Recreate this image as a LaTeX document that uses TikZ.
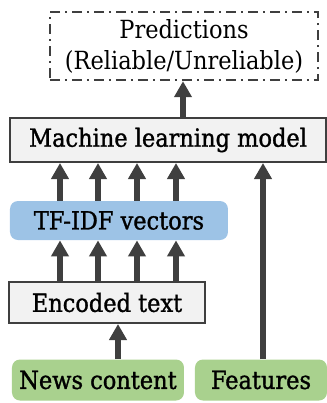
\documentclass[tikz,border=0pt]{standalone}
\usepackage{xcolor}
\usepackage{fontspec}
\setmainfont{DejaVu Serif Condensed}
\newfontfamily\labelfont{DejaVu Serif Condensed}[FakeBold=1.2]
\usetikzlibrary{arrows.meta}
\definecolor{boxgray}{HTML}{F2F2F2}
\definecolor{edgegray}{HTML}{3F3F3F}
\definecolor{tfblue}{HTML}{9DC3E6}
\definecolor{inputgreen}{HTML}{A9D18E}
\tikzset{
  plainbox/.style={draw=edgegray, line width=1pt, fill=boxgray, inner sep=0pt,
    font=\fontsize{12.5}{15}\labelfont},
  roundbox/.style={rounded corners=4pt, inner sep=0pt,
    font=\fontsize{12.5}{15}\labelfont},
  uparrow/.style={draw=edgegray, line width=2.6pt,
    -{Triangle[width=8.5pt,length=8pt]}}
}
\begin{document}
\begin{tikzpicture}[x=0.5pt, y=-0.5pt]
    \useasboundingbox (0,0) rectangle (327,403);

    % Boxes
    \node[draw=edgegray, line width=1.2pt, dash pattern={on 5pt off 2.5pt on 1pt off 2.5pt},
      minimum width=134pt, minimum height=34pt, inner sep=0pt, align=center,
      font=\fontsize{12.5}{15.5}\selectfont] (pred) at (184,46)
      {Predictions\\(Reliable/Unreliable)};
    \node[plainbox, minimum width=158pt, minimum height=22pt] (model) at (168,140)
      {Machine learning model};
    \node[roundbox, fill=tfblue, minimum width=109pt, minimum height=19.5pt] (tfidf) at (119,220.5)
      {TF-IDF vectors};
    \node[plainbox, minimum width=98pt, minimum height=20.5pt] (enc) at (107,302.5)
      {Encoded text};
    \node[roundbox, fill=inputgreen, minimum width=86pt, minimum height=20.5pt] (news) at (98,380)
      {News content};
    \node[roundbox, fill=inputgreen, minimum width=66pt, minimum height=20.5pt] (feat) at (261,380)
      {Features};

    % Arrows
    \foreach \x in {60,98,137,176} {
      \draw[uparrow] (enc.north -| \x,0) -- (tfidf.south -| \x,0);
      \draw[uparrow] (tfidf.north -| \x,0) -- (model.south -| \x,0);
    }
    \draw[uparrow] (news.north -| 118,0) -- (enc.south -| 118,0);
    \draw[uparrow] (feat.north -| 263,0) -- (model.south -| 263,0);
    \draw[uparrow] (model.north -| 183,0) -- (pred.south -| 183,0);
\end{tikzpicture}
\end{document}
